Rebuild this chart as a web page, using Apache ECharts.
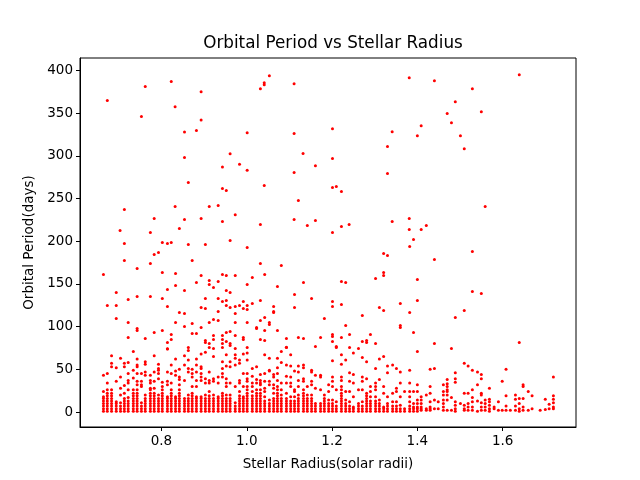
<!DOCTYPE html>
<html>

<head lang="en">
    <meta charset="utf-8">
    <title>Orbital Period vs Stellar Radius</title>
    <script src="https://cdn.jsdelivr.net/npm/echarts@6/dist/echarts.min.js"></script>
</head>

<body style="margin:0;">
    <div id="main" style="width: 640px;height:480px;"></div>
    <script type="text/javascript">
        var myChart = echarts.init(document.getElementById('main'));

        /*--------------------- data ----------------------------*/
        // radius columns (solar radii) and the short periods (days) stacked in each one
        var colRadius = [0.664, 0.673, 0.683, 0.694, 0.704, 0.713, 0.722, 0.734, 0.743, 0.753,
            0.762, 0.774, 0.783, 0.793, 0.802, 0.814, 0.823, 0.833, 0.842, 0.854,
            0.863, 0.872, 0.882, 0.893, 0.903, 0.912, 0.922, 0.933, 0.943, 0.952,
            0.961, 0.973, 0.983, 0.992, 1.001,
            1.013, 1.023, 1.032, 1.042, 1.053, 1.063, 1.072, 1.081, 1.093, 1.103,
            1.112, 1.121, 1.133, 1.142, 1.152, 1.161, 1.173, 1.182, 1.192, 1.201,
            1.210, 1.222, 1.232, 1.241, 1.250, 1.262, 1.271, 1.281, 1.290, 1.302,
            1.311, 1.321, 1.330, 1.342, 1.351, 1.360, 1.370, 1.382, 1.391, 1.400,
            1.409, 1.421, 1.430, 1.440, 1.449, 1.461, 1.470, 1.480, 1.489, 1.501,
            1.510, 1.519, 1.529, 1.541, 1.550, 1.559, 1.569, 1.580, 1.590, 1.599,
            1.608, 1.618, 1.630, 1.639, 1.648, 1.660, 1.669, 1.688, 1.700, 1.709, 1.719];

        var colPeriods = [
            [1, 4, 7, 10, 13, 16, 18, 24, 43],
            [1, 4, 7, 10, 13, 16, 19, 22, 26, 34, 45],
            [1, 4, 7, 10, 13, 16, 19, 22, 26, 53, 57, 66],
            [1, 4, 7, 10, 12, 36, 52],
            [1, 4, 7, 11, 20, 28, 41, 63],
            [1, 4, 7, 10, 13, 16, 22, 31, 53, 57],
            [1, 4, 7, 10, 13, 17, 26, 34, 37, 45, 58],
            [1, 4, 7, 10, 13, 16, 19, 22, 26, 40, 49, 71],
            [1, 4, 7, 10, 13, 16, 19, 22, 26, 32, 36, 45, 53, 55, 62],
            [1, 4, 7, 11, 30, 32, 36, 45],
            [1, 4, 7, 10, 13, 16, 20, 43, 47, 56, 59],
            [1, 4, 7, 10, 13, 16, 19, 22, 26, 28, 34, 37, 43],
            [1, 4, 7, 10, 13, 16, 19, 22, 28, 36, 47, 66],
            [1, 4, 7, 10, 13, 16, 20, 39, 45, 49, 51, 56],
            [1, 4, 7, 10, 13, 16, 19, 22, 26, 30, 35],
            [1, 4, 7, 10, 13, 16, 18, 32, 36, 47, 74],
            [1, 4, 7, 10, 13, 16, 19, 22, 26, 34, 45, 55],
            [1, 4, 7, 10, 13, 16, 18, 43, 48, 62],
            [1, 4, 7, 10, 13, 16, 19, 22, 26, 32, 38, 41, 50],
            [1, 4, 7, 10, 13, 16, 37, 55, 66],
            [1, 4, 7, 10, 13, 16, 20, 47, 51, 61, 72],
            [1, 4, 7, 10, 13, 16, 19, 22, 30, 41, 45, 50],
            [1, 4, 7, 10, 13, 16, 18, 30, 37, 47, 55, 62],
            [1, 4, 7, 10, 13, 16, 18, 37, 41, 45, 51, 53, 68],
            [1, 4, 7, 10, 13, 16, 20, 34, 39, 70],
            [1, 4, 7, 10, 13, 16, 19, 24, 34, 37, 47],
            [1, 4, 7, 10, 13, 16, 20, 36, 39, 65],
            [1, 4, 7, 10, 13, 16, 18, 34, 41],
            [1, 4, 7, 10, 13, 16, 19, 22, 41, 45, 51, 59],
            [1, 4, 7, 10, 13, 16, 20, 30, 34, 39, 54, 67],
            [1, 4, 7, 10, 13, 16, 20, 34, 53, 59],
            [1, 4, 7, 11, 30, 55, 63, 67],
            [1, 4, 7, 10, 13, 16, 19, 24, 34, 37, 57, 61],
            [1, 4, 7, 10, 13, 16, 18, 30, 45, 68],
            [1, 4, 7, 10, 13, 16, 19, 22, 26, 30, 36, 39, 45, 61, 69],
            [1, 4, 7, 10, 13, 16, 19, 24, 30, 34, 42, 51],
            [1, 4, 7, 10, 13, 16, 19, 22, 26, 34, 38, 53],
            [1, 4, 7, 10, 13, 16, 19, 22, 26, 32, 34, 37, 44],
            [1, 4, 7, 10, 13, 18, 24, 28, 36, 45, 67],
            [1, 4, 7, 10, 14, 32, 36, 48, 49, 63],
            [1, 4, 7, 10, 13, 16, 22, 28, 32, 41, 44],
            [1, 4, 7, 10, 13, 16, 19, 22, 26, 30, 37, 45, 52, 63],
            [1, 4, 7, 10, 13, 16, 20, 26, 34, 58, 71],
            [1, 4, 7, 10, 13, 16, 22, 34, 42, 55, 76],
            [1, 4, 7, 10, 13, 18, 30, 34, 41, 54, 67],
            [1, 4, 7, 10, 13, 18, 24, 26, 48],
            [1, 4, 7, 10, 13, 16, 20, 30, 37, 47, 54],
            [1, 4, 7, 10, 13, 16, 19, 22, 26, 36, 39, 52, 55],
            [1, 4, 7, 10, 13, 16, 20, 30],
            [1, 4, 7, 10, 13, 16, 20, 32, 36, 47, 49],
            [1, 4, 7, 10, 28, 43],
            [1, 4, 7, 10, 26, 41, 43],
            [1, 4, 7, 10, 13, 16, 20],
            [1, 4, 7, 10, 14, 24, 32],
            [1, 4, 7, 10, 14, 30, 36, 41, 60],
            [1, 4, 7, 12, 26],
            [1, 4, 7, 10, 13, 16, 19, 22, 26, 30, 37, 41, 56, 67],
            [1, 4, 7, 10, 14, 24, 61],
            [1, 4, 7, 12, 24, 36, 46],
            [1, 4, 6, 18, 34, 44, 69],
            [1, 4, 7, 10, 26],
            [1, 4, 7, 12, 26, 36, 41, 64],
            [1, 4, 7, 10, 13, 16, 19, 22, 39, 59],
            [1, 4, 7, 10, 13, 18, 24, 30],
            [1, 4, 7, 10, 13, 18, 26, 30, 34, 51],
            [1, 4, 7, 10, 14, 38, 62],
            [1, 4, 6, 22, 30, 65],
            [1, 4, 7, 10, 18, 46, 54],
            [1, 4, 7, 12, 22, 55],
            [1, 4, 7, 12, 24, 28, 51],
            [1, 4, 8, 18, 34, 47],
            [1, 4, 24],
            [1, 4, 7, 12, 18, 24, 34, 49],
            [1, 4, 6, 10, 24],
            [1, 4, 6, 10, 14, 24, 32, 71],
            [2, 4, 6, 10, 14, 18],
            [2, 4, 20],
            [2, 4, 6, 12, 22, 30, 50],
            [4, 14, 51],
            [4, 12],
            [2, 6, 10, 14, 20, 24, 32],
            [2, 14, 20, 24, 26, 30, 33, 38],
            [2, 17],
            [1, 4, 8, 12, 35, 39, 46],
            [10],
            [2, 4, 8, 22, 57],
            [2, 6, 10, 22, 54],
            [2, 6, 12, 17, 26, 49],
            [1, 13, 32, 47],
            [2, 6, 11, 20, 22, 39, 44],
            [2, 6, 10, 14],
            [1, 4, 8, 12, 15, 28],
            [4, 6],
            [2, 12],
            [2, 36],
            [2, 7, 19, 50],
            [2],
            [2, 7, 15, 20],
            [1, 4, 10, 16],
            [2, 6, 16, 30, 32],
            [2, 24],
            [4, 19],
            [2],
            [3, 15],
            [4, 9],
            [4, 6, 11, 15, 19, 41]
        ];

        // longer periods, read one by one: [radius, period]
        var scatteredPoints = [
            [0.673, 364.6], [0.762, 381], [0.823, 387], [0.893, 375], [0.832, 357.5], [0.753, 346],
            [0.893, 342], [0.854, 328], [0.882, 329.5], [1.001, 327], [0.854, 298], [0.961, 302.5],
            [0.943, 287], [0.983, 290], [1.001, 283], [0.863, 268.7], [0.943, 261.6], [0.952, 259.3],
            [0.713, 237], [0.832, 240.6], [0.912, 240.6], [0.933, 241.8], [0.973, 231], [0.783, 226.5],
            [0.854, 225.4], [0.893, 226.5], [0.943, 223], [0.842, 214.9], [0.703, 212.5], [0.774, 210.2],
            [1.053, 393.8], [1.041, 385.6], [1.041, 383.3], [1.032, 378.6], [1.111, 384.4], [1.381, 391.5],
            [1.201, 331.8], [1.111, 326], [1.341, 328.3], [1.400, 323.6], [1.330, 310.8], [1.132, 302.6],
            [1.201, 296.7], [1.161, 288.5], [1.111, 280.4], [1.330, 279.2], [1.041, 265.1], [1.201, 262.8],
            [1.210, 264], [1.222, 258.1], [1.121, 247.6], [1.032, 219.5], [1.111, 225.4], [1.142, 218.4],
            [1.161, 224.2], [1.201, 210.2], [1.222, 217.2], [1.240, 219.5], [1.341, 223], [1.381, 226.5],
            [1.381, 213.7], [1.440, 388], [1.639, 395], [1.529, 378.6], [1.489, 363.4], [1.550, 351.7],
            [1.470, 349.4], [1.480, 338.8], [1.409, 335.3], [1.501, 323.6], [1.510, 308.4], [1.559, 240.6],
            [1.421, 218.4], [1.409, 213.7],
            [0.713, 197.3], [0.802, 198.5], [0.814, 197.3], [0.823, 198.5], [0.863, 196.1], [0.903, 196.1],
            [0.961, 200.8], [1.001, 192.6], [0.783, 184.4], [0.793, 186.8], [0.713, 177.4], [0.774, 173.9],
            [0.872, 177.4], [0.743, 168.1], [0.664, 161.0], [0.802, 163.4], [0.833, 162.2], [0.893, 159.9],
            [0.943, 161.0], [0.952, 159.9], [0.973, 159.9], [0.912, 154.0], [0.882, 151.7], [0.933, 152.9],
            [0.912, 149.3], [1.001, 149.3], [0.922, 145.8], [0.833, 148.2], [0.814, 143.5], [0.854, 142.3],
            [0.694, 140.0], [0.952, 142.3], [0.961, 140.0], [0.722, 131.8], [0.743, 135.3], [0.774, 135.3],
            [0.802, 133.0], [0.903, 133.0], [0.933, 133.0], [0.943, 129.5], [0.952, 130.6], [0.992, 129.5],
            [0.673, 124.8], [0.694, 124.8], [0.814, 123.6], [0.893, 122.5], [0.903, 121.3], [0.952, 124.8],
            [0.961, 122.5], [0.973, 123.6], [0.983, 124.8], [1.001, 124.8], [0.992, 121.3], [1.001, 120.1],
            [0.842, 116.6], [0.854, 115.4], [0.933, 117.8], [0.973, 115.4], [0.694, 109.6], [0.922, 108.4],
            [0.933, 107.2], [0.722, 104.9], [0.833, 104.9], [0.872, 103.7], [0.912, 104.9], [0.973, 104.9],
            [1.001, 104.9], [0.854, 100.2], [0.893, 99.1], [0.743, 97.9], [0.743, 95.6], [0.802, 95.6],
            [0.783, 93.2], [0.961, 94.4], [0.952, 93.2], [0.872, 92.0], [0.882, 92.0], [0.823, 90.9],
            [0.973, 89.7], [0.722, 87.4], [0.762, 86.2], [0.823, 85.0], [0.922, 89.7], [0.943, 89.7],
            [0.992, 87.4], [0.992, 85.0], [0.922, 85.0], [0.943, 85.0], [0.952, 82.7], [0.903, 83.8],
            [0.903, 81.5], [0.814, 81.5], [0.912, 80.3], [0.943, 80.3], [0.961, 80.3], [0.961, 78.0],
            [1.001, 75.7], [0.863, 75.7], [0.912, 75.7], [0.922, 74.5], [0.943, 75.7], [0.973, 74.5],
            [0.814, 73.7],
            [1.391, 202.0], [1.382, 193.8], [1.321, 185.6], [1.330, 183.3], [1.032, 173.9], [1.081, 171.6],
            [1.042, 161.0], [1.013, 157.5], [1.321, 163.4], [1.321, 159.9], [1.302, 156.4], [1.400, 155.2],
            [1.133, 151.7], [1.222, 152.9], [1.232, 151.7], [1.072, 147.0], [1.112, 137.7], [1.152, 133.0],
            [1.013, 127.1], [1.032, 130.6], [1.201, 129.5], [1.222, 126.0], [1.201, 123.6], [1.063, 123.6],
            [1.112, 122.5], [1.063, 117.8], [1.063, 116.6], [1.311, 122.5], [1.321, 118.9], [1.360, 127.1],
            [1.400, 130.6], [1.382, 116.6], [1.042, 110.8], [1.032, 107.2], [1.053, 104.9], [1.053, 102.6],
            [1.182, 109.6], [1.271, 113.1], [1.023, 99.1], [1.023, 97.9], [1.042, 95.6], [1.072, 95.6],
            [1.232, 101.4], [1.360, 101.4], [1.360, 99.1], [1.391, 93.2], [1.201, 90.9], [1.201, 88.5],
            [1.241, 90.9], [1.290, 90.9], [1.032, 85.0], [1.042, 83.8], [1.093, 86.2], [1.121, 87.4],
            [1.133, 86.2], [1.173, 87.4], [1.222, 87.4], [1.271, 82.7], [1.281, 83.8], [1.281, 81.5],
            [1.302, 80.3], [1.093, 75.7], [1.161, 76.8], [1.201, 82.7], [1.210, 76.8], [1.210, 75.7],
            [1.241, 75.7], [1.262, 74.5],
            [1.529, 187.9], [1.440, 178.6], [1.529, 141.2], [1.550, 138.8], [1.510, 118.9], [1.489, 110.8],
            [1.440, 80.3], [1.480, 74.5], [1.639, 81.5]
        ];

        var xTicks = [0.8, 1.0, 1.2, 1.4, 1.6];
        var yTicks = [0, 50, 100, 150, 200, 250, 300, 350, 400];

        /*--------------------- build series data ----------------------------*/
        var points = [];
        for (var i = 0; i < colRadius.length; i++) {
            for (var j = 0; j < colPeriods[i].length; j++) {
                points.push([colRadius[i], colPeriods[i][j]]);
            }
        }
        for (var k = 0; k < scatteredPoints.length; k++) {
            points.push(scatteredPoints[k]);
        }

        var font = 'DejaVu Sans';

        var option = {
            backgroundColor: '#fff',
            animation: false,
            title: {
                text: 'Orbital Period vs Stellar Radius',
                left: 328,
                top: 30,
                textAlign: 'center',
                textStyle: {
                    color: '#000',
                    fontFamily: font,
                    fontWeight: 'normal',
                    fontSize: 16.8
                }
            },
            grid: {
                left: 80,
                right: 64,
                top: 58,
                bottom: 53,
                show: true,
                borderColor: '#000',
                borderWidth: 1,
                containLabel: false
            },
            xAxis: {
                type: 'value',
                min: 0.609,
                max: 1.772,
                name: 'Stellar Radius(solar radii)',
                nameLocation: 'middle',
                nameGap: 30,
                nameTextStyle: { color: '#000', fontFamily: font, fontSize: 13.5 },
                splitLine: { show: false },
                axisLine: { show: true, onZero: false, lineStyle: { color: '#000' } },
                axisTick: { show: true, length: 4, customValues: xTicks, lineStyle: { color: '#000' } },
                axisLabel: {
                    color: '#000', fontFamily: font, fontSize: 13.5, margin: 7,
                    customValues: xTicks,
                    formatter: function (v) { return v.toFixed(1); }
                }
            },
            yAxis: {
                type: 'value',
                min: -17.5,
                max: 414.5,
                name: 'Orbital Period(days)',
                nameLocation: 'middle',
                nameGap: 44,
                nameTextStyle: { color: '#000', fontFamily: font, fontSize: 13.5 },
                splitLine: { show: false },
                axisLine: { show: true, onZero: false, lineStyle: { color: '#000' } },
                axisTick: { show: true, length: 4, customValues: yTicks, lineStyle: { color: '#000' } },
                axisLabel: {
                    color: '#000', fontFamily: font, fontSize: 13.5, margin: 7,
                    customValues: yTicks
                }
            },
            series: [{
                type: 'scatter',
                symbol: 'circle',
                symbolSize: 3,
                silent: true,
                itemStyle: { color: '#ff0000', opacity: 1 },
                data: points
            }]
        };
        myChart.setOption(option);
    </script>
</body>

</html>
